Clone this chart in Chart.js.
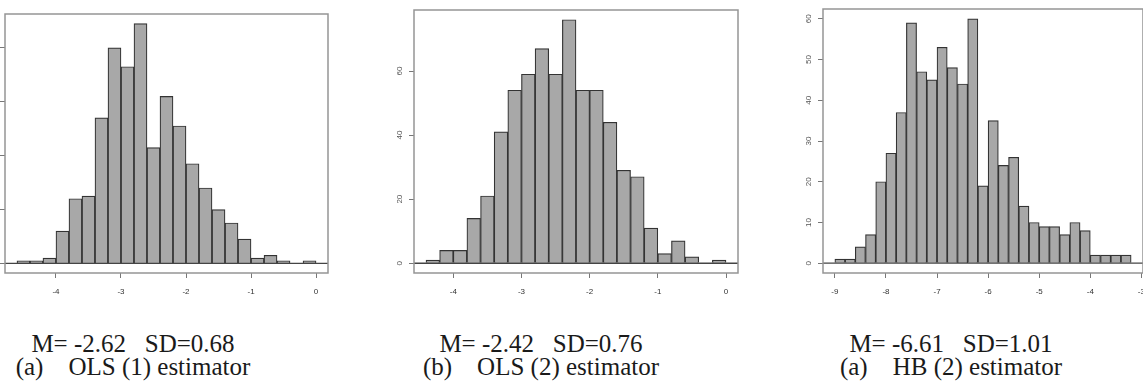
<!DOCTYPE html>
<html>
<head>
<meta charset="utf-8">
<script src="https://cdn.jsdelivr.net/npm/chart.js@4.4.1/dist/chart.umd.min.js"></script>
<style>
  html, body { margin: 0; padding: 0; background: #fff; }
  body { width: 1143px; height: 384px; position: relative; overflow: hidden; }
  canvas { position: absolute; }
  .caption {
    position: absolute; width: 320px; text-align: center;
    font-family: "Liberation Serif", "DejaVu Serif", serif;
    font-size: 25px; line-height: 23px; color: #1a1a1a; white-space: pre;
  }
</style>
</head>
<body>
<canvas id="ols1"></canvas>
<canvas id="ols2"></canvas>
<canvas id="hb2"></canvas>

<div class="caption" style="left:-27px; top:332px;">M= -2.62   SD=0.68
(a)    OLS (1) estimator</div>
<div class="caption" style="left:381px; top:332px;">M= -2.42   SD=0.76
(b)    OLS (2) estimator</div>
<div class="caption" style="left:791px; top:332px;">M= -6.61   SD=1.01
(a)    HB (2) estimator</div>

<script>
// histogram bins: all panels use breaks 0.2 apart
const binWidth = 0.2;

// (a) OLS (1)
const ols1Start = -4.6;
const ols1Counts = [1, 1, 2, 12, 24, 25, 54, 80, 73, 89, 43, 62, 51, 37, 28, 20, 15, 9, 2, 3, 1, 0, 1];
const ols1XTicks = [-4, -3, -2, -1, 0];
const ols1YTicks = [0, 20, 40, 60, 80];

// (b) OLS (2)
const ols2Start = -4.4;
const ols2Counts = [1, 4, 4, 14, 21, 41, 54, 59, 67, 59, 76, 54, 54, 44, 29, 27, 11, 3, 7, 2, 0, 1];
const ols2XTicks = [-4, -3, -2, -1, 0];
const ols2YTicks = [0, 20, 40, 60];

// HB (2)
const hb2Start = -9.0;
const hb2Counts = [1, 1, 4, 7, 20, 27, 37, 59, 47, 45, 53, 48, 44, 60, 19, 35, 24, 26, 14, 10, 9, 9, 7, 10, 8, 2, 2, 2, 2];
const hb2XTicks = [-9, -8, -7, -6, -5, -4, -3];
const hb2YTicks = [0, 10, 20, 30, 40, 50, 60];

const yAxisWidth = 40;
const xAxisHeight = 30;
const padTop = 15;
const padRight = 15;

// box round the plot region + the zero line under the bars
const framePlugin = {
  id: "frame",
  afterDatasetsDraw(chart) {
    const { ctx, chartArea: a, scales } = chart;
    const y0 = scales.y.getPixelForValue(0);
    ctx.save();
    ctx.strokeStyle = "#444";
    ctx.lineWidth = 1.3;
    ctx.beginPath();
    ctx.moveTo(a.left, y0);
    ctx.lineTo(a.right, y0);
    ctx.stroke();
    ctx.strokeStyle = "#959595";
    ctx.lineWidth = 1.5;
    ctx.strokeRect(a.left, a.top, a.right - a.left, a.bottom - a.top);
    ctx.restore();
  },
};

const tickFont = { family: "'Liberation Sans', Arial, sans-serif", size: 8 };

const makeHistogram = (id, box, start, counts, xTicks, yTicks) => {
  const lo = start;
  const hi = start + counts.length * binWidth;
  const xPad = (hi - lo) * 0.04;
  const yMax = Math.max(...counts);

  const canvas = document.getElementById(id);
  canvas.width = Math.round(box.right - box.left) + yAxisWidth + padRight;
  canvas.height = box.bottom - box.top + padTop + xAxisHeight;
  canvas.style.left = box.left - yAxisWidth + "px";
  canvas.style.top = box.top - padTop + "px";

  new Chart(canvas, {
    type: "bar",
    data: {
      datasets: [
        {
          data: counts.map((c, i) => ({ x: start + (i + 0.5) * binWidth, y: c })),
          backgroundColor: "#a8a8a8",
          borderColor: "#333",
          borderWidth: 1.2,
          barPercentage: 1,
          categoryPercentage: 1,
        },
      ],
    },
    options: {
      responsive: false,
      animation: false,
      layout: { padding: { top: padTop, right: padRight, left: 0, bottom: 0 } },
      plugins: { legend: { display: false }, tooltip: { enabled: false } },
      scales: {
        x: {
          type: "linear",
          min: lo - xPad,
          max: hi + xPad,
          offset: false,
          afterBuildTicks: (s) => { s.ticks = xTicks.map((v) => ({ value: v })); },
          afterFit: (s) => { s.height = xAxisHeight; },
          grid: { drawOnChartArea: false, tickLength: 5, tickColor: "#777", offset: false },
          border: { display: false },
          ticks: {
            padding: 9, autoSkip: false, maxRotation: 0,
            color: "#333", font: tickFont,
            callback: (v) => String(v),
          },
        },
        y: {
          type: "linear",
          min: -yMax * 0.04,
          max: yMax * 1.04,
          afterBuildTicks: (s) => { s.ticks = yTicks.map((v) => ({ value: v })); },
          afterFit: (s) => { s.width = yAxisWidth; },
          grid: { drawOnChartArea: false, tickLength: 5, tickColor: "#777" },
          border: { display: false },
          ticks: {
            padding: 5, autoSkip: false, minRotation: 90, maxRotation: 90,
            crossAlign: "center", color: "#555", font: tickFont,
            callback: (v) => String(v),
          },
        },
      },
    },
    plugins: [framePlugin],
  });
};

makeHistogram("ols1", { left: 5, top: 14, right: 328, bottom: 273 }, ols1Start, ols1Counts, ols1XTicks, ols1YTicks);
makeHistogram("ols2", { left: 414, top: 10, right: 738, bottom: 273 }, ols2Start, ols2Counts, ols2XTicks, ols2YTicks);
makeHistogram("hb2", { left: 823, top: 9, right: 1143, bottom: 273 }, hb2Start, hb2Counts, hb2XTicks, hb2YTicks);
</script>
</body>
</html>
